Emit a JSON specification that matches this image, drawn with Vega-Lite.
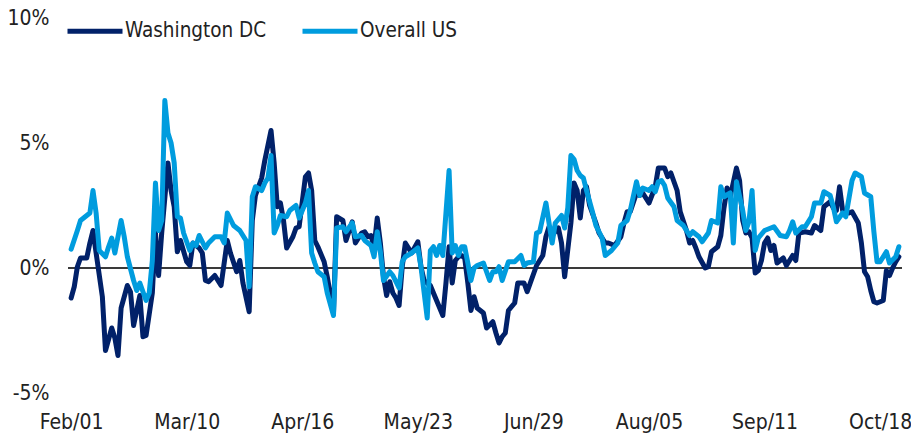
{
"$schema": "https://vega.github.io/schema/vega-lite/v6.json",
"width": 834, "height": 375,
"autosize": {"type": "none"},
"padding": {"left": 68, "top": 18, "right": 9, "bottom": 50},
"background": "white",
"config": {
 "view": {"stroke": null},
 "font": "Liberation Sans Narrow, DejaVu Sans Condensed, sans-serif",
 "axis": {"grid": false, "ticks": false, "domain": false, "title": null, "labelFontSize": 21, "labelColor": "#222222", "labelFont": "Liberation Sans Narrow, DejaVu Sans Condensed, sans-serif"}
},
"layer": [
 {
  "data": {"values": [{"ref": 0}]},
  "mark": {"type": "rule", "color": "#3a3a3a", "strokeWidth": 2},
  "encoding": {"y": {"field": "ref", "type": "quantitative", "scale": {"domain": [-5, 10], "nice": false, "zero": false}, "axis": {"values": [-5, 0, 5, 10], "labelExpr": "datum.value + '%'", "labelPadding": 19}}}
 },
 {
  "data": {"values": [
{"date":"2021-02-01","series":"Washington DC","value":-1.2},
{"date":"2021-02-02","series":"Washington DC","value":-0.75},
{"date":"2021-02-03","series":"Washington DC","value":0.05},
{"date":"2021-02-04","series":"Washington DC","value":0.4},
{"date":"2021-02-06","series":"Washington DC","value":0.4},
{"date":"2021-02-07","series":"Washington DC","value":1.0},
{"date":"2021-02-08","series":"Washington DC","value":1.5},
{"date":"2021-02-09","series":"Washington DC","value":0.6},
{"date":"2021-02-11","series":"Washington DC","value":-1.15},
{"date":"2021-02-12","series":"Washington DC","value":-3.3},
{"date":"2021-02-14","series":"Washington DC","value":-2.4},
{"date":"2021-02-15","series":"Washington DC","value":-2.8},
{"date":"2021-02-16","series":"Washington DC","value":-3.5},
{"date":"2021-02-17","series":"Washington DC","value":-1.6},
{"date":"2021-02-19","series":"Washington DC","value":-0.7},
{"date":"2021-02-20","series":"Washington DC","value":-0.95},
{"date":"2021-02-21","series":"Washington DC","value":-2.3},
{"date":"2021-02-23","series":"Washington DC","value":-1.1},
{"date":"2021-02-24","series":"Washington DC","value":-2.75},
{"date":"2021-02-25","series":"Washington DC","value":-2.7},
{"date":"2021-02-27","series":"Washington DC","value":-1.0},
{"date":"2021-02-28","series":"Washington DC","value":1.4},
{"date":"2021-03-01","series":"Washington DC","value":-0.3},
{"date":"2021-03-02","series":"Washington DC","value":1.4},
{"date":"2021-03-04","series":"Washington DC","value":4.2},
{"date":"2021-03-05","series":"Washington DC","value":3.1},
{"date":"2021-03-06","series":"Washington DC","value":2.45},
{"date":"2021-03-07","series":"Washington DC","value":0.65},
{"date":"2021-03-08","series":"Washington DC","value":1.1},
{"date":"2021-03-10","series":"Washington DC","value":0.25},
{"date":"2021-03-11","series":"Washington DC","value":0.1},
{"date":"2021-03-12","series":"Washington DC","value":1.0},
{"date":"2021-03-14","series":"Washington DC","value":0.8},
{"date":"2021-03-15","series":"Washington DC","value":0.6},
{"date":"2021-03-16","series":"Washington DC","value":-0.5},
{"date":"2021-03-17","series":"Washington DC","value":-0.55},
{"date":"2021-03-19","series":"Washington DC","value":-0.3},
{"date":"2021-03-21","series":"Washington DC","value":-0.7},
{"date":"2021-03-23","series":"Washington DC","value":1.1},
{"date":"2021-03-24","series":"Washington DC","value":0.6},
{"date":"2021-03-26","series":"Washington DC","value":-0.15},
{"date":"2021-03-27","series":"Washington DC","value":0.3},
{"date":"2021-03-28","series":"Washington DC","value":-0.6},
{"date":"2021-03-30","series":"Washington DC","value":-1.75},
{"date":"2021-03-31","series":"Washington DC","value":1.9},
{"date":"2021-04-01","series":"Washington DC","value":2.9},
{"date":"2021-04-03","series":"Washington DC","value":3.6},
{"date":"2021-04-04","series":"Washington DC","value":4.3},
{"date":"2021-04-05","series":"Washington DC","value":4.9},
{"date":"2021-04-06","series":"Washington DC","value":5.5},
{"date":"2021-04-07","series":"Washington DC","value":4.2},
{"date":"2021-04-08","series":"Washington DC","value":2.45},
{"date":"2021-04-09","series":"Washington DC","value":2.6},
{"date":"2021-04-10","series":"Washington DC","value":1.9},
{"date":"2021-04-11","series":"Washington DC","value":0.8},
{"date":"2021-04-13","series":"Washington DC","value":1.25},
{"date":"2021-04-14","series":"Washington DC","value":1.6},
{"date":"2021-04-15","series":"Washington DC","value":1.65},
{"date":"2021-04-17","series":"Washington DC","value":3.65},
{"date":"2021-04-18","series":"Washington DC","value":3.8},
{"date":"2021-04-19","series":"Washington DC","value":3.1},
{"date":"2021-04-20","series":"Washington DC","value":1.1},
{"date":"2021-04-21","series":"Washington DC","value":0.85},
{"date":"2021-04-23","series":"Washington DC","value":0.25},
{"date":"2021-04-24","series":"Washington DC","value":-0.35},
{"date":"2021-04-26","series":"Washington DC","value":-1.8},
{"date":"2021-04-27","series":"Washington DC","value":2.05},
{"date":"2021-04-29","series":"Washington DC","value":1.9},
{"date":"2021-04-30","series":"Washington DC","value":1.1},
{"date":"2021-05-02","series":"Washington DC","value":1.85},
{"date":"2021-05-03","series":"Washington DC","value":1.0},
{"date":"2021-05-05","series":"Washington DC","value":1.4},
{"date":"2021-05-06","series":"Washington DC","value":1.45},
{"date":"2021-05-07","series":"Washington DC","value":1.25},
{"date":"2021-05-08","series":"Washington DC","value":1.3},
{"date":"2021-05-09","series":"Washington DC","value":0.85},
{"date":"2021-05-10","series":"Washington DC","value":2.0},
{"date":"2021-05-11","series":"Washington DC","value":1.0},
{"date":"2021-05-12","series":"Washington DC","value":-0.35},
{"date":"2021-05-13","series":"Washington DC","value":-1.1},
{"date":"2021-05-14","series":"Washington DC","value":-0.55},
{"date":"2021-05-15","series":"Washington DC","value":-1.0},
{"date":"2021-05-16","series":"Washington DC","value":-1.2},
{"date":"2021-05-17","series":"Washington DC","value":-1.5},
{"date":"2021-05-18","series":"Washington DC","value":0.05},
{"date":"2021-05-19","series":"Washington DC","value":1.0},
{"date":"2021-05-21","series":"Washington DC","value":0.6},
{"date":"2021-05-23","series":"Washington DC","value":1.05},
{"date":"2021-05-24","series":"Washington DC","value":0.05},
{"date":"2021-05-25","series":"Washington DC","value":-0.5},
{"date":"2021-05-27","series":"Washington DC","value":-0.7},
{"date":"2021-05-29","series":"Washington DC","value":-1.3},
{"date":"2021-05-31","series":"Washington DC","value":-1.9},
{"date":"2021-06-01","series":"Washington DC","value":-0.6},
{"date":"2021-06-02","series":"Washington DC","value":0.85},
{"date":"2021-06-03","series":"Washington DC","value":-0.6},
{"date":"2021-06-04","series":"Washington DC","value":0.3},
{"date":"2021-06-05","series":"Washington DC","value":0.45},
{"date":"2021-06-06","series":"Washington DC","value":0.5},
{"date":"2021-06-07","series":"Washington DC","value":0.4},
{"date":"2021-06-08","series":"Washington DC","value":-0.6},
{"date":"2021-06-09","series":"Washington DC","value":-1.7},
{"date":"2021-06-10","series":"Washington DC","value":-1.15},
{"date":"2021-06-11","series":"Washington DC","value":-1.6},
{"date":"2021-06-13","series":"Washington DC","value":-1.8},
{"date":"2021-06-14","series":"Washington DC","value":-2.4},
{"date":"2021-06-16","series":"Washington DC","value":-2.15},
{"date":"2021-06-17","series":"Washington DC","value":-2.6},
{"date":"2021-06-18","series":"Washington DC","value":-3.0},
{"date":"2021-06-19","series":"Washington DC","value":-2.75},
{"date":"2021-06-20","series":"Washington DC","value":-2.6},
{"date":"2021-06-21","series":"Washington DC","value":-1.7},
{"date":"2021-06-23","series":"Washington DC","value":-1.4},
{"date":"2021-06-24","series":"Washington DC","value":-0.6},
{"date":"2021-06-26","series":"Washington DC","value":-0.6},
{"date":"2021-06-27","series":"Washington DC","value":-0.95},
{"date":"2021-06-28","series":"Washington DC","value":-0.6},
{"date":"2021-06-30","series":"Washington DC","value":0.1},
{"date":"2021-07-02","series":"Washington DC","value":0.5},
{"date":"2021-07-03","series":"Washington DC","value":1.25},
{"date":"2021-07-04","series":"Washington DC","value":1.65},
{"date":"2021-07-05","series":"Washington DC","value":1.3},
{"date":"2021-07-07","series":"Washington DC","value":1.6},
{"date":"2021-07-08","series":"Washington DC","value":1.0},
{"date":"2021-07-09","series":"Washington DC","value":-0.35},
{"date":"2021-07-11","series":"Washington DC","value":1.8},
{"date":"2021-07-12","series":"Washington DC","value":3.4},
{"date":"2021-07-13","series":"Washington DC","value":3.1},
{"date":"2021-07-14","series":"Washington DC","value":2.0},
{"date":"2021-07-15","series":"Washington DC","value":3.1},
{"date":"2021-07-16","series":"Washington DC","value":3.25},
{"date":"2021-07-17","series":"Washington DC","value":2.5},
{"date":"2021-07-19","series":"Washington DC","value":1.8},
{"date":"2021-07-20","series":"Washington DC","value":1.4},
{"date":"2021-07-22","series":"Washington DC","value":1.0},
{"date":"2021-07-23","series":"Washington DC","value":1.0},
{"date":"2021-07-25","series":"Washington DC","value":0.9},
{"date":"2021-07-27","series":"Washington DC","value":1.25},
{"date":"2021-07-28","series":"Washington DC","value":1.8},
{"date":"2021-07-29","series":"Washington DC","value":2.25},
{"date":"2021-07-30","series":"Washington DC","value":2.25},
{"date":"2021-08-01","series":"Washington DC","value":3.0},
{"date":"2021-08-02","series":"Washington DC","value":2.9},
{"date":"2021-08-03","series":"Washington DC","value":3.0},
{"date":"2021-08-04","series":"Washington DC","value":2.8},
{"date":"2021-08-05","series":"Washington DC","value":2.6},
{"date":"2021-08-07","series":"Washington DC","value":3.25},
{"date":"2021-08-08","series":"Washington DC","value":4.0},
{"date":"2021-08-10","series":"Washington DC","value":4.0},
{"date":"2021-08-11","series":"Washington DC","value":3.65},
{"date":"2021-08-12","series":"Washington DC","value":3.8},
{"date":"2021-08-14","series":"Washington DC","value":3.1},
{"date":"2021-08-15","series":"Washington DC","value":2.25},
{"date":"2021-08-17","series":"Washington DC","value":1.5},
{"date":"2021-08-18","series":"Washington DC","value":1.0},
{"date":"2021-08-19","series":"Washington DC","value":1.1},
{"date":"2021-08-20","series":"Washington DC","value":0.8},
{"date":"2021-08-21","series":"Washington DC","value":0.45},
{"date":"2021-08-23","series":"Washington DC","value":0.0},
{"date":"2021-08-24","series":"Washington DC","value":0.05},
{"date":"2021-08-25","series":"Washington DC","value":0.65},
{"date":"2021-08-27","series":"Washington DC","value":0.85},
{"date":"2021-08-28","series":"Washington DC","value":1.3},
{"date":"2021-08-29","series":"Washington DC","value":2.4},
{"date":"2021-08-30","series":"Washington DC","value":3.2},
{"date":"2021-08-31","series":"Washington DC","value":2.85},
{"date":"2021-09-02","series":"Washington DC","value":4.0},
{"date":"2021-09-03","series":"Washington DC","value":3.5},
{"date":"2021-09-04","series":"Washington DC","value":1.9},
{"date":"2021-09-05","series":"Washington DC","value":1.4},
{"date":"2021-09-06","series":"Washington DC","value":1.45},
{"date":"2021-09-07","series":"Washington DC","value":1.2},
{"date":"2021-09-08","series":"Washington DC","value":-0.2},
{"date":"2021-09-09","series":"Washington DC","value":-0.1},
{"date":"2021-09-10","series":"Washington DC","value":0.3},
{"date":"2021-09-11","series":"Washington DC","value":1.0},
{"date":"2021-09-12","series":"Washington DC","value":1.2},
{"date":"2021-09-13","series":"Washington DC","value":0.7},
{"date":"2021-09-14","series":"Washington DC","value":0.9},
{"date":"2021-09-15","series":"Washington DC","value":0.2},
{"date":"2021-09-17","series":"Washington DC","value":0.4},
{"date":"2021-09-18","series":"Washington DC","value":0.1},
{"date":"2021-09-20","series":"Washington DC","value":0.5},
{"date":"2021-09-21","series":"Washington DC","value":0.3},
{"date":"2021-09-22","series":"Washington DC","value":1.4},
{"date":"2021-09-24","series":"Washington DC","value":1.45},
{"date":"2021-09-26","series":"Washington DC","value":1.4},
{"date":"2021-09-27","series":"Washington DC","value":1.7},
{"date":"2021-09-29","series":"Washington DC","value":1.5},
{"date":"2021-09-30","series":"Washington DC","value":2.45},
{"date":"2021-10-02","series":"Washington DC","value":2.65},
{"date":"2021-10-03","series":"Washington DC","value":2.4},
{"date":"2021-10-04","series":"Washington DC","value":2.3},
{"date":"2021-10-05","series":"Washington DC","value":3.25},
{"date":"2021-10-06","series":"Washington DC","value":2.3},
{"date":"2021-10-08","series":"Washington DC","value":2.2},
{"date":"2021-10-09","series":"Washington DC","value":2.25},
{"date":"2021-10-11","series":"Washington DC","value":1.8},
{"date":"2021-10-12","series":"Washington DC","value":1.0},
{"date":"2021-10-13","series":"Washington DC","value":-0.15},
{"date":"2021-10-14","series":"Washington DC","value":-0.35},
{"date":"2021-10-15","series":"Washington DC","value":-0.9},
{"date":"2021-10-16","series":"Washington DC","value":-1.35},
{"date":"2021-10-17","series":"Washington DC","value":-1.4},
{"date":"2021-10-19","series":"Washington DC","value":-1.3},
{"date":"2021-10-20","series":"Washington DC","value":-0.1},
{"date":"2021-10-21","series":"Washington DC","value":-0.3},
{"date":"2021-10-22","series":"Washington DC","value":0.0},
{"date":"2021-10-23","series":"Washington DC","value":0.25},
{"date":"2021-10-24","series":"Washington DC","value":0.45},
{"date":"2021-02-01","series":"Overall US","value":0.75},
{"date":"2021-02-03","series":"Overall US","value":1.5},
{"date":"2021-02-04","series":"Overall US","value":1.9},
{"date":"2021-02-06","series":"Overall US","value":2.1},
{"date":"2021-02-07","series":"Overall US","value":2.2},
{"date":"2021-02-08","series":"Overall US","value":3.1},
{"date":"2021-02-09","series":"Overall US","value":2.2},
{"date":"2021-02-10","series":"Overall US","value":0.7},
{"date":"2021-02-12","series":"Overall US","value":0.45},
{"date":"2021-02-13","series":"Overall US","value":0.85},
{"date":"2021-02-14","series":"Overall US","value":1.2},
{"date":"2021-02-15","series":"Overall US","value":0.6},
{"date":"2021-02-17","series":"Overall US","value":1.9},
{"date":"2021-02-18","series":"Overall US","value":1.25},
{"date":"2021-02-19","series":"Overall US","value":0.45},
{"date":"2021-02-21","series":"Overall US","value":-0.5},
{"date":"2021-02-22","series":"Overall US","value":-0.9},
{"date":"2021-02-23","series":"Overall US","value":-0.6},
{"date":"2021-02-25","series":"Overall US","value":-1.3},
{"date":"2021-02-26","series":"Overall US","value":-1.0},
{"date":"2021-02-27","series":"Overall US","value":0.3},
{"date":"2021-02-28","series":"Overall US","value":3.4},
{"date":"2021-03-01","series":"Overall US","value":1.5},
{"date":"2021-03-02","series":"Overall US","value":1.9},
{"date":"2021-03-03","series":"Overall US","value":6.7},
{"date":"2021-03-04","series":"Overall US","value":5.4},
{"date":"2021-03-05","series":"Overall US","value":5.0},
{"date":"2021-03-06","series":"Overall US","value":4.2},
{"date":"2021-03-07","series":"Overall US","value":2.05},
{"date":"2021-03-08","series":"Overall US","value":2.0},
{"date":"2021-03-09","series":"Overall US","value":1.4},
{"date":"2021-03-11","series":"Overall US","value":0.7},
{"date":"2021-03-12","series":"Overall US","value":1.0},
{"date":"2021-03-13","series":"Overall US","value":0.9},
{"date":"2021-03-14","series":"Overall US","value":1.3},
{"date":"2021-03-16","series":"Overall US","value":0.8},
{"date":"2021-03-17","series":"Overall US","value":1.0},
{"date":"2021-03-19","series":"Overall US","value":1.25},
{"date":"2021-03-21","series":"Overall US","value":1.25},
{"date":"2021-03-22","series":"Overall US","value":1.0},
{"date":"2021-03-23","series":"Overall US","value":2.2},
{"date":"2021-03-25","series":"Overall US","value":1.7},
{"date":"2021-03-27","series":"Overall US","value":1.5},
{"date":"2021-03-29","series":"Overall US","value":1.1},
{"date":"2021-03-30","series":"Overall US","value":-0.75},
{"date":"2021-03-31","series":"Overall US","value":2.85},
{"date":"2021-04-01","series":"Overall US","value":3.25},
{"date":"2021-04-03","series":"Overall US","value":3.1},
{"date":"2021-04-04","series":"Overall US","value":3.4},
{"date":"2021-04-05","series":"Overall US","value":3.6},
{"date":"2021-04-06","series":"Overall US","value":4.5},
{"date":"2021-04-07","series":"Overall US","value":1.4},
{"date":"2021-04-08","series":"Overall US","value":1.7},
{"date":"2021-04-09","series":"Overall US","value":2.1},
{"date":"2021-04-11","series":"Overall US","value":2.05},
{"date":"2021-04-12","series":"Overall US","value":2.3},
{"date":"2021-04-14","series":"Overall US","value":2.5},
{"date":"2021-04-15","series":"Overall US","value":2.0},
{"date":"2021-04-17","series":"Overall US","value":2.6},
{"date":"2021-04-18","series":"Overall US","value":3.1},
{"date":"2021-04-19","series":"Overall US","value":0.6},
{"date":"2021-04-20","series":"Overall US","value":0.2},
{"date":"2021-04-21","series":"Overall US","value":-0.15},
{"date":"2021-04-23","series":"Overall US","value":-0.35},
{"date":"2021-04-24","series":"Overall US","value":-1.0},
{"date":"2021-04-26","series":"Overall US","value":-1.9},
{"date":"2021-04-27","series":"Overall US","value":1.6},
{"date":"2021-04-29","series":"Overall US","value":1.65},
{"date":"2021-04-30","series":"Overall US","value":1.45},
{"date":"2021-05-02","series":"Overall US","value":1.8},
{"date":"2021-05-03","series":"Overall US","value":1.25},
{"date":"2021-05-05","series":"Overall US","value":1.3},
{"date":"2021-05-06","series":"Overall US","value":1.1},
{"date":"2021-05-07","series":"Overall US","value":1.0},
{"date":"2021-05-08","series":"Overall US","value":0.9},
{"date":"2021-05-09","series":"Overall US","value":0.45},
{"date":"2021-05-10","series":"Overall US","value":1.45},
{"date":"2021-05-11","series":"Overall US","value":0.65},
{"date":"2021-05-12","series":"Overall US","value":-0.5},
{"date":"2021-05-14","series":"Overall US","value":-0.15},
{"date":"2021-05-15","series":"Overall US","value":-0.3},
{"date":"2021-05-17","series":"Overall US","value":-0.8},
{"date":"2021-05-18","series":"Overall US","value":0.25},
{"date":"2021-05-19","series":"Overall US","value":0.45},
{"date":"2021-05-21","series":"Overall US","value":0.6},
{"date":"2021-05-23","series":"Overall US","value":0.8},
{"date":"2021-05-24","series":"Overall US","value":0.05},
{"date":"2021-05-26","series":"Overall US","value":-2.0},
{"date":"2021-05-27","series":"Overall US","value":0.7},
{"date":"2021-05-28","series":"Overall US","value":0.85},
{"date":"2021-05-29","series":"Overall US","value":0.5},
{"date":"2021-05-30","series":"Overall US","value":0.9},
{"date":"2021-05-31","series":"Overall US","value":0.5},
{"date":"2021-06-02","series":"Overall US","value":3.9},
{"date":"2021-06-03","series":"Overall US","value":0.6},
{"date":"2021-06-04","series":"Overall US","value":0.9},
{"date":"2021-06-05","series":"Overall US","value":0.5},
{"date":"2021-06-06","series":"Overall US","value":0.85},
{"date":"2021-06-07","series":"Overall US","value":0.85},
{"date":"2021-06-08","series":"Overall US","value":0.2},
{"date":"2021-06-09","series":"Overall US","value":-0.5},
{"date":"2021-06-10","series":"Overall US","value":0.0},
{"date":"2021-06-11","series":"Overall US","value":0.1},
{"date":"2021-06-13","series":"Overall US","value":0.2},
{"date":"2021-06-15","series":"Overall US","value":-0.5},
{"date":"2021-06-16","series":"Overall US","value":-0.15},
{"date":"2021-06-17","series":"Overall US","value":-0.15},
{"date":"2021-06-18","series":"Overall US","value":0.05},
{"date":"2021-06-19","series":"Overall US","value":-0.5},
{"date":"2021-06-21","series":"Overall US","value":0.25},
{"date":"2021-06-23","series":"Overall US","value":0.25},
{"date":"2021-06-25","series":"Overall US","value":0.5},
{"date":"2021-06-26","series":"Overall US","value":0.1},
{"date":"2021-06-27","series":"Overall US","value":0.2},
{"date":"2021-06-29","series":"Overall US","value":0.25},
{"date":"2021-06-30","series":"Overall US","value":1.4},
{"date":"2021-07-01","series":"Overall US","value":1.45},
{"date":"2021-07-03","series":"Overall US","value":2.6},
{"date":"2021-07-04","series":"Overall US","value":1.8},
{"date":"2021-07-05","series":"Overall US","value":1.0},
{"date":"2021-07-06","series":"Overall US","value":1.8},
{"date":"2021-07-08","series":"Overall US","value":2.1},
{"date":"2021-07-09","series":"Overall US","value":1.6},
{"date":"2021-07-10","series":"Overall US","value":2.4},
{"date":"2021-07-11","series":"Overall US","value":4.5},
{"date":"2021-07-12","series":"Overall US","value":4.35},
{"date":"2021-07-13","series":"Overall US","value":3.9},
{"date":"2021-07-14","series":"Overall US","value":3.7},
{"date":"2021-07-15","series":"Overall US","value":3.6},
{"date":"2021-07-16","series":"Overall US","value":3.1},
{"date":"2021-07-18","series":"Overall US","value":2.2},
{"date":"2021-07-19","series":"Overall US","value":1.7},
{"date":"2021-07-21","series":"Overall US","value":1.2},
{"date":"2021-07-22","series":"Overall US","value":0.5},
{"date":"2021-07-24","series":"Overall US","value":0.7},
{"date":"2021-07-26","series":"Overall US","value":1.0},
{"date":"2021-07-27","series":"Overall US","value":1.7},
{"date":"2021-07-29","series":"Overall US","value":1.9},
{"date":"2021-07-30","series":"Overall US","value":2.3},
{"date":"2021-08-01","series":"Overall US","value":3.45},
{"date":"2021-08-02","series":"Overall US","value":2.9},
{"date":"2021-08-03","series":"Overall US","value":3.2},
{"date":"2021-08-05","series":"Overall US","value":3.1},
{"date":"2021-08-06","series":"Overall US","value":3.25},
{"date":"2021-08-07","series":"Overall US","value":3.05},
{"date":"2021-08-08","series":"Overall US","value":3.45},
{"date":"2021-08-09","series":"Overall US","value":3.5},
{"date":"2021-08-10","series":"Overall US","value":3.3},
{"date":"2021-08-11","series":"Overall US","value":2.8},
{"date":"2021-08-13","series":"Overall US","value":2.45},
{"date":"2021-08-14","series":"Overall US","value":1.9},
{"date":"2021-08-16","series":"Overall US","value":1.7},
{"date":"2021-08-18","series":"Overall US","value":1.3},
{"date":"2021-08-19","series":"Overall US","value":1.45},
{"date":"2021-08-21","series":"Overall US","value":1.25},
{"date":"2021-08-22","series":"Overall US","value":1.05},
{"date":"2021-08-24","series":"Overall US","value":1.4},
{"date":"2021-08-25","series":"Overall US","value":1.9},
{"date":"2021-08-27","series":"Overall US","value":1.8},
{"date":"2021-08-28","series":"Overall US","value":3.25},
{"date":"2021-08-29","series":"Overall US","value":2.85},
{"date":"2021-08-31","series":"Overall US","value":3.0},
{"date":"2021-09-01","series":"Overall US","value":1.0},
{"date":"2021-09-02","series":"Overall US","value":3.45},
{"date":"2021-09-04","series":"Overall US","value":2.3},
{"date":"2021-09-05","series":"Overall US","value":1.5},
{"date":"2021-09-06","series":"Overall US","value":1.85},
{"date":"2021-09-07","series":"Overall US","value":3.1},
{"date":"2021-09-08","series":"Overall US","value":0.7},
{"date":"2021-09-09","series":"Overall US","value":1.2},
{"date":"2021-09-10","series":"Overall US","value":1.35},
{"date":"2021-09-11","series":"Overall US","value":1.5},
{"date":"2021-09-13","series":"Overall US","value":1.6},
{"date":"2021-09-14","series":"Overall US","value":1.65},
{"date":"2021-09-16","series":"Overall US","value":1.3},
{"date":"2021-09-18","series":"Overall US","value":1.25},
{"date":"2021-09-19","series":"Overall US","value":1.5},
{"date":"2021-09-20","series":"Overall US","value":1.85},
{"date":"2021-09-21","series":"Overall US","value":1.4},
{"date":"2021-09-23","series":"Overall US","value":1.65},
{"date":"2021-09-24","series":"Overall US","value":1.65},
{"date":"2021-09-26","series":"Overall US","value":2.05},
{"date":"2021-09-27","series":"Overall US","value":2.6},
{"date":"2021-09-29","series":"Overall US","value":2.6},
{"date":"2021-09-30","series":"Overall US","value":3.05},
{"date":"2021-10-02","series":"Overall US","value":2.9},
{"date":"2021-10-03","series":"Overall US","value":2.45},
{"date":"2021-10-04","series":"Overall US","value":1.85},
{"date":"2021-10-06","series":"Overall US","value":2.2},
{"date":"2021-10-07","series":"Overall US","value":2.05},
{"date":"2021-10-09","series":"Overall US","value":3.5},
{"date":"2021-10-10","series":"Overall US","value":3.8},
{"date":"2021-10-12","series":"Overall US","value":3.65},
{"date":"2021-10-13","series":"Overall US","value":3.0},
{"date":"2021-10-15","series":"Overall US","value":2.85},
{"date":"2021-10-16","series":"Overall US","value":1.45},
{"date":"2021-10-17","series":"Overall US","value":0.25},
{"date":"2021-10-18","series":"Overall US","value":0.25},
{"date":"2021-10-20","series":"Overall US","value":0.65},
{"date":"2021-10-21","series":"Overall US","value":0.2},
{"date":"2021-10-23","series":"Overall US","value":0.45},
{"date":"2021-10-24","series":"Overall US","value":0.85}
  ]},
  "mark": {"type": "line", "strokeWidth": 5, "strokeJoin": "round", "strokeCap": "round"},
  "encoding": {
   "x": {"field": "date", "type": "temporal", "scale": {"type": "utc", "domain": [1612051200000, 1635120000000], "nice": false},
     "axis": {"values": [1612137600000, 1615334400000, 1618531200000, 1621728000000, 1624924800000, 1628121600000, 1631318400000, 1634515200000], "format": "%b/%d", "labelPadding": 18, "labelAngle": 0}},
   "y": {"field": "value", "type": "quantitative", "scale": {"domain": [-5, 10], "nice": false, "zero": false}, "axis": {"values": [-5, 0, 5, 10], "labelExpr": "datum.value + '%'", "labelPadding": 19}},
   "color": {"field": "series", "type": "nominal", "sort": ["Washington DC", "Overall US"],
     "scale": {"domain": ["Washington DC", "Overall US"], "range": ["#012169", "#009CDE"]},
     "legend": {"orient": "none", "legendX": -3, "legendY": -17, "direction": "horizontal", "title": null, "symbolType": "stroke", "symbolSize": 3025, "symbolStrokeWidth": 5, "labelFontSize": 20.5, "labelColor": "#222222", "labelFont": "Liberation Sans Narrow, DejaVu Sans Condensed, sans-serif", "columnPadding": 25, "labelOffset": 0, "padding": 0}}
  }
 }
]
}
